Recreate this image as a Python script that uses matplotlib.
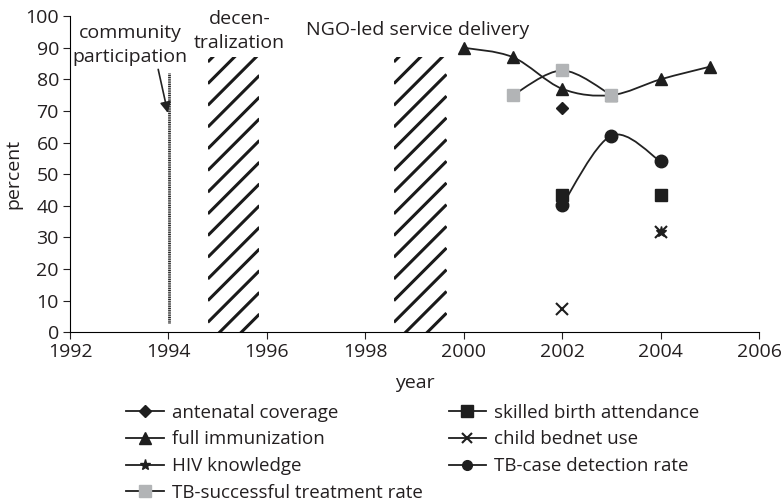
import matplotlib
matplotlib.use("Agg")
import matplotlib.pyplot as plt
import numpy as np
from matplotlib.path import Path
from matplotlib.patches import PathPatch, Rectangle
from matplotlib.lines import Line2D

# ---------------------------
# Data
# ---------------------------
imm_years = [2000, 2001, 2002, 2003, 2004, 2005]
imm_vals = [90, 87, 77, 75, 80, 84]

tbs_years = [2001, 2002, 2003]
tbs_vals = [75, 82.8, 75]

tbc_years = [2002, 2003, 2004]
tbc_vals = [40.2, 62.2, 54]

anc_years = [2002]
anc_vals = [71]

sba_years = [2002, 2004]
sba_vals = [43.5, 43.5]

bednet_years = [2002, 2004]
bednet_vals = [7.2, 31.8]

hiv_years = [2004]
hiv_vals = [31.8]

# reform periods (start, end)
decentral = (1994.8, 1995.85)
ngo = (1998.58, 1999.65)
hatch_top = 87
community_year = 1994.02

plt.rcParams['font.family'] = ['Open Sans', 'DejaVu Sans']
TXT = '#231f20'


def smooth_path(xs, ys, t=1 / 6):
    # Catmull-Rom style cubic bezier through the points (like Excel smoothed line)
    verts = [(xs[0], ys[0])]
    codes = [Path.MOVETO]
    n = len(xs)
    for i in range(n - 1):
        x0, y0 = (xs[i - 1], ys[i - 1]) if i > 0 else (xs[i], ys[i])
        x1, y1 = xs[i], ys[i]
        x2, y2 = xs[i + 1], ys[i + 1]
        x3, y3 = (xs[i + 2], ys[i + 2]) if i + 2 < n else (x2, y2)
        c1 = (x1 + (x2 - x0) * t, y1 + (y2 - y0) * t)
        c2 = (x2 - (x3 - x1) * t, y2 - (y3 - y1) * t)
        verts += [c1, c2, (x2, y2)]
        codes += [Path.CURVE4] * 3
    return Path(verts, codes)


fig = plt.figure(figsize=(7.83, 5.04), dpi=100)
ax = fig.add_axes([0.0894, 0.341, 0.880, 0.627])
ax.set_xlim(1992, 2006)
ax.set_ylim(0, 100)

# hatched periods (45 degree stripes, ~22 px apart)
bb = ax.get_window_extent()
px_year = bb.width / 14
px_pct = bb.height / 100
slope = px_year / px_pct
step = 21.7 / px_pct
for start, end in [decentral, ngo]:
    rect = Rectangle((start, 0), end - start, hatch_top, facecolor='none', linewidth=0)
    ax.add_patch(rect)
    rise = slope * (end - start)
    for c in np.arange(hatch_top - 1.5, -rise - step, -step):
        ln, = ax.plot([start, end], [c, c + rise], color='#1a1a1a', lw=2.2,
                      solid_capstyle='butt')
        ln.set_clip_path(rect)

# community participation
ax.plot([community_year, community_year], [3, 82], color='#222222', lw=2.0,
        linestyle=(0, (0.4, 0.25)))
ax.annotate('', xy=(1994.0, 68.5), xytext=(1993.78, 84),
            arrowprops=dict(arrowstyle='-|>', color='#222222', lw=1.2, mutation_scale=16))

# smoothed lines
for xs, ys in [(imm_years, imm_vals), (tbs_years, tbs_vals), (tbc_years, tbc_vals)]:
    ax.add_patch(PathPatch(smooth_path(xs, ys), facecolor='none', edgecolor='#222222', lw=1.3))

ms = 8
ax.plot(imm_years, imm_vals, '^', color='#1e1e1e', ms=ms, ls='none')
ax.plot(tbs_years, tbs_vals, 's', color='#b2b4b6', ms=ms + 1, ls='none')
ax.plot(tbc_years, tbc_vals, 'o', color='#1e1e1e', ms=ms + 1, ls='none')
ax.plot(anc_years, anc_vals, 'D', color='#1e1e1e', ms=6, ls='none')
ax.plot(sba_years, sba_vals, 's', color='#1e1e1e', ms=ms + 1, ls='none')
ax.plot(bednet_years, bednet_vals, 'x', color='#1e1e1e', ms=8, mew=1.5, ls='none')
ax.plot(hiv_years, hiv_vals, '*', color='#1e1e1e', ms=8, ls='none')

# period labels
fs = 14
ax.text(1993.22, 90.8, 'community\nparticipation', ha='center', va='center',
        fontsize=fs, color=TXT, linespacing=1.45)
ax.text(1995.45, 95.2, 'decen-\ntralization', ha='center', va='center',
        fontsize=fs, color=TXT, linespacing=1.4)
ax.text(1999.06, 95.6, 'NGO-led service delivery', ha='center', va='center',
        fontsize=fs, color=TXT)

ax.set_xticks(range(1992, 2007, 2))
ax.set_yticks(range(0, 101, 10))
ax.spines['top'].set_visible(False)
ax.spines['right'].set_visible(False)
ax.tick_params(direction='out', length=5, labelsize=14, colors=TXT, pad=3)
ax.set_xlabel('year', fontsize=14, color=TXT, labelpad=9)
ax.set_ylabel('percent', fontsize=14, color=TXT, labelpad=2)

# legend
lk = dict(color='#1e1e1e', lw=1.3)
handles = [
    Line2D([], [], marker='D', ms=6, **lk),
    Line2D([], [], marker='^', ms=8, **lk),
    Line2D([], [], marker='*', ms=8, **lk),
    Line2D([], [], marker='s', ms=8, markerfacecolor='#b2b4b6', markeredgecolor='#b2b4b6', **lk),
    Line2D([], [], marker='s', ms=8, **lk),
    Line2D([], [], marker='x', ms=7, mew=1.5, **lk),
    Line2D([], [], marker='o', ms=7, **lk),
]
labels = ['antenatal coverage', 'full immunization', 'HIV knowledge',
          'TB-successful treatment rate', 'skilled birth attendance',
          'child bednet use', 'TB-case detection rate']
fig.legend(handles, labels, ncol=2, loc='upper left', bbox_to_anchor=(0.1495, 0.218),
           frameon=False, fontsize=13.5, handlelength=2.0, handletextpad=0.45,
           labelspacing=0.47, columnspacing=1.35, borderpad=0, labelcolor=TXT)

fig.savefig('out.png', dpi=100)
